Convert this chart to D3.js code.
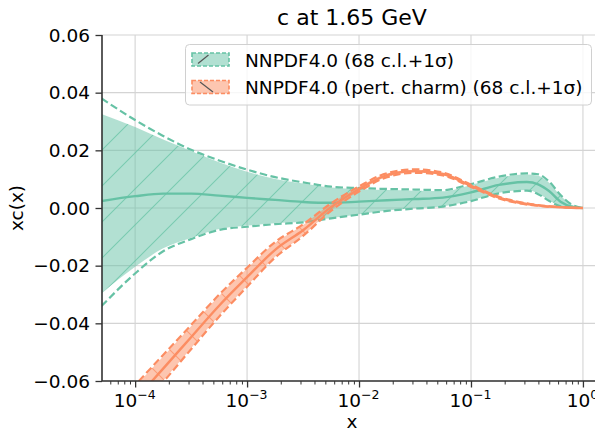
<!DOCTYPE html>
<html><head><meta charset="utf-8">
<script src="https://cdn.jsdelivr.net/npm/d3@7"></script>
<style>
body{margin:0;background:#fff;}
text{font-family:"DejaVu Sans",sans-serif;fill:#000;}
</style></head>
<body><svg id="chart" width="595" height="432"></svg>
<script>
// ---------------- data ----------------
const xGrid = [5.01e-5, 1.0e-4, 1.78e-4, 3.16e-4, 5.62e-4, 1.0e-3, 1.78e-3, 3.16e-3, 5.62e-3, 1.0e-2, 1.78e-2, 3.16e-2, 5.62e-2, 0.1, 0.178, 0.316, 0.398, 0.501, 0.631, 0.794, 1.0];

const greenCentral = [0.0024, 0.0041, 0.0050, 0.0050, 0.0043, 0.0035, 0.0028, 0.0021, 0.0018, 0.0022, 0.0027, 0.0031, 0.0036, 0.0054, 0.0080, 0.0090, 0.0082, 0.0058, 0.0022, 0.0005, 0.0];
const greenHi68 = [0.0326, 0.0281, 0.0238, 0.0198, 0.0159, 0.0126, 0.0101, 0.0085, 0.0071, 0.0066, 0.0062, 0.0060, 0.0058, 0.0080, 0.0105, 0.0116, 0.0112, 0.0087, 0.0043, 0.0011, 0.0];
const greenLo68 = [-0.0296, -0.0204, -0.0140, -0.0104, -0.0073, -0.0061, -0.0053, -0.0048, -0.0035, -0.0022, -0.0009, -0.0001, 0.0006, 0.0026, 0.0053, 0.0062, 0.0050, 0.0026, 0.0007, 0.0001, 0.0];
const greenHi1s = [0.0380, 0.0305, 0.0250, 0.0202, 0.0165, 0.0133, 0.0107, 0.0089, 0.0074, 0.0069, 0.0066, 0.0064, 0.0062, 0.0083, 0.0109, 0.0120, 0.0117, 0.0091, 0.0045, 0.0012, 0.0];
const greenLo1s = [-0.0340, -0.0227, -0.0150, -0.0108, -0.0076, -0.0065, -0.0056, -0.0050, -0.0036, -0.0023, -0.0010, -0.0002, 0.0005, 0.0024, 0.0051, 0.0060, 0.0048, 0.0024, 0.0006, 0.0001, 0.0];

const orangeCentral = [-0.0797, -0.0666, -0.0557, -0.0448, -0.0339, -0.0240, -0.0145, -0.0077, 0.0003, 0.0066, 0.0114, 0.0128, 0.0118, 0.0077, 0.0036, 0.0014, 0.0009, 0.0005, 0.0003, 0.0001, 0.0];
const orangeHi68 = [-0.0747, -0.0619, -0.0515, -0.0410, -0.0305, -0.0210, -0.0121, -0.0059, 0.0015, 0.0074, 0.0120, 0.0133, 0.0122, 0.0080, 0.0039, 0.0016, 0.0010, 0.0006, 0.0003, 0.0001, 0.0];
const orangeLo68 = [-0.0847, -0.0713, -0.0599, -0.0486, -0.0373, -0.0270, -0.0169, -0.0095, -0.0009, 0.0058, 0.0108, 0.0123, 0.0114, 0.0074, 0.0033, 0.0012, 0.0008, 0.0004, 0.0003, 0.0001, 0.0];
const orangeHi1s = [-0.0741, -0.0614, -0.0510, -0.0406, -0.0301, -0.0207, -0.0118, -0.0057, 0.0016, 0.0075, 0.0121, 0.0134, 0.0123, 0.0081, 0.0039, 0.0016, 0.0010, 0.0006, 0.0003, 0.0001, 0.0];
const orangeLo1s = [-0.0853, -0.0718, -0.0604, -0.0490, -0.0377, -0.0273, -0.0172, -0.0097, -0.0010, 0.0057, 0.0107, 0.0122, 0.0113, 0.0073, 0.0033, 0.0012, 0.0008, 0.0004, 0.0003, 0.0001, 0.0];

const xMajorTicks = [1e-4, 1e-3, 1e-2, 1e-1, 1];
const xMajorExp = ["−4", "−3", "−2", "−1", "0"];
const yTicks = [-0.06, -0.04, -0.02, 0.00, 0.02, 0.04, 0.06];
const yTickLabels = ["−0.06", "−0.04", "−0.02", "0.00", "0.02", "0.04", "0.06"];
const legendLabels = ["NNPDF4.0 (68 c.l.+1σ)", "NNPDF4.0 (pert. charm) (68 c.l.+1σ)"];
const titleText = "c at 1.65 GeV";

// ---------------- layout ----------------
const green = "#66c2a5", orange = "#fc8d62";
const L = 102, R = 602, T = 35, B = 381;
const svg = d3.select("#chart");
const x = d3.scaleLog().domain([5.06e-5, 1.48]).range([L, R]);
const y = d3.scaleLinear().domain([-0.06, 0.06]).range([B, T]);

const defs = svg.append("defs");
defs.append("clipPath").attr("id","clip").append("rect")
  .attr("x", L).attr("y", T).attr("width", R - L).attr("height", B - T);
function hatch(id, color, dir){
  const p = defs.append("pattern").attr("id", id).attr("patternUnits","userSpaceOnUse")
    .attr("width", 36).attr("height", 36);
  const d = dir > 0 ? "M0,36 L36,0 M-9,9 L9,-9 M27,45 L45,27"
                    : "M0,0 L36,36 M-9,27 L9,45 M27,-9 L45,9";
  p.append("path").attr("d", d).attr("stroke", color).attr("stroke-width", 1.1)
    .attr("stroke-opacity", 0.75).attr("fill","none");
}
hatch("hg", green, 1);
hatch("ho", orange, -1);

// grid
const grid = svg.append("g");
xMajorTicks.forEach(v => grid.append("line").attr("x1", x(v)).attr("x2", x(v))
  .attr("y1", T).attr("y2", B).attr("stroke", "#d4d4d4").attr("stroke-width", 1.1));
yTicks.forEach(v => grid.append("line").attr("x1", L).attr("x2", R)
  .attr("y1", y(v)).attr("y2", y(v)).attr("stroke", "#d4d4d4").attr("stroke-width", 1.1));

const plot = svg.append("g").attr("clip-path", "url(#clip)");
const idx = d3.range(xGrid.length);
const area = (hi, lo) => d3.area().x(i => x(xGrid[i])).y0(i => y(lo[i])).y1(i => y(hi[i]))
  .curve(d3.curveMonotoneX)(idx);
const line = arr => d3.line().x(i => x(xGrid[i])).y(i => y(arr[i])).curve(d3.curveMonotoneX)(idx);

function band(color, hid, c, hi68, lo68, hi1, lo1){
  plot.append("path").attr("d", area(hi68, lo68)).attr("fill", color).attr("fill-opacity", 0.5);
  plot.append("path").attr("d", area(hi68, lo68)).attr("fill", `url(#${hid})`);
  const g = plot.append("g");
  [hi1, lo1].forEach(a => g.append("path").attr("d", line(a)).attr("fill","none")
    .attr("stroke", color).attr("stroke-width", 2.2).attr("stroke-dasharray", "7.5,3.5"));
  g.append("path").attr("d", line(c)).attr("fill","none").attr("stroke", color).attr("stroke-width", 2.4);
}
band(green, "hg", greenCentral, greenHi68, greenLo68, greenHi1s, greenLo1s);
band(orange, "ho", orangeCentral, orangeHi68, orangeLo68, orangeHi1s, orangeLo1s);

// axes
const axCol = "#333";
const minors = [];
for (let e = -5; e <= 0; e++) for (let m = 2; m <= 9; m++) {
  const v = m * Math.pow(10, e);
  if (v >= x.domain()[0] && v <= x.domain()[1]) minors.push(v);
}
const xa = svg.append("g").attr("transform", `translate(0,${B})`);
xa.call(d3.axisBottom(x).tickValues(minors).tickSize(3.5).tickFormat(""));
xa.call(g => g.selectAll(".tick line").attr("stroke", axCol).attr("stroke-width", 1));
const xb = svg.append("g").attr("transform", `translate(0,${B})`);
xb.call(d3.axisBottom(x).tickValues(xMajorTicks).tickSize(6.5).tickFormat(""));
xb.selectAll(".tick line").attr("stroke", axCol).attr("stroke-width", 1.3);
[xa, xb].forEach(g => g.select(".domain").remove());
svg.append("line").attr("x1", L).attr("x2", R).attr("y1", B).attr("y2", B)
  .attr("stroke", axCol).attr("stroke-width", 1.6);

xMajorTicks.forEach((v, i) => {
  const t = svg.append("text").attr("x", x(v) - 0.5).attr("y", 407).attr("text-anchor", "middle")
    .style("font-size", "18.5px");
  t.append("tspan").text("10");
  t.append("tspan").attr("dy", -8.5).style("font-size", "12.5px").text(xMajorExp[i]);
});

const ya = svg.append("g").attr("transform", `translate(${L},0)`);
ya.call(d3.axisLeft(y).tickValues(yTicks).tickSize(6.5).tickFormat(""));
ya.select(".domain").remove();
ya.selectAll(".tick line").attr("stroke", axCol).attr("stroke-width", 1.3);
svg.append("line").attr("x1", L).attr("x2", L).attr("y1", T).attr("y2", B)
  .attr("stroke", axCol).attr("stroke-width", 1.6);
yTicks.forEach((v, i) => svg.append("text").attr("x", 90).attr("y", y(v) + 6.7)
  .attr("text-anchor", "end").style("font-size", "18.5px").text(yTickLabels[i]));

// labels
svg.append("text").attr("x", 352).attr("y", 25).attr("text-anchor", "middle")
  .style("font-size", "22px").text(titleText);
svg.append("text").attr("x", 352).attr("y", 428).attr("text-anchor", "middle")
  .style("font-size", "18.5px").text("x");
svg.append("text").attr("transform", "translate(23,208) rotate(-90)").attr("text-anchor", "middle")
  .style("font-size", "18.5px").text("xc(x)");

// legend
const lg = svg.append("g");
lg.append("rect").attr("x", 185.5).attr("y", 44.5).attr("width", 406).attr("height", 60.5)
  .attr("rx", 4).attr("fill", "#fff").attr("fill-opacity", 0.8)
  .attr("stroke", "#d0d0d0").attr("stroke-width", 1);
const cols = [green, orange];
legendLabels.forEach((lab, i) => {
  const yy = 53 + i * 27.5;
  lg.append("rect").attr("x", 192).attr("y", yy).attr("width", 37).attr("height", 13)
    .attr("fill", cols[i]).attr("fill-opacity", 0.5)
    .attr("stroke", cols[i]).attr("stroke-width", 1.6).attr("stroke-dasharray", "4,2");
  if (i === 0) lg.append("line").attr("x1", 198).attr("y1", 63.5).attr("x2", 208.5).attr("y2", 55)
      .attr("stroke", "#555").attr("stroke-width", 1.2);
  else lg.append("line").attr("x1", 200).attr("y1", 82).attr("x2", 213).attr("y2", 92)
      .attr("stroke", "#555").attr("stroke-width", 1.2);
  lg.append("text").attr("x", 245).attr("y", yy + 13.6).style("font-size", "18.5px").text(lab);
});
</script></body></html>
